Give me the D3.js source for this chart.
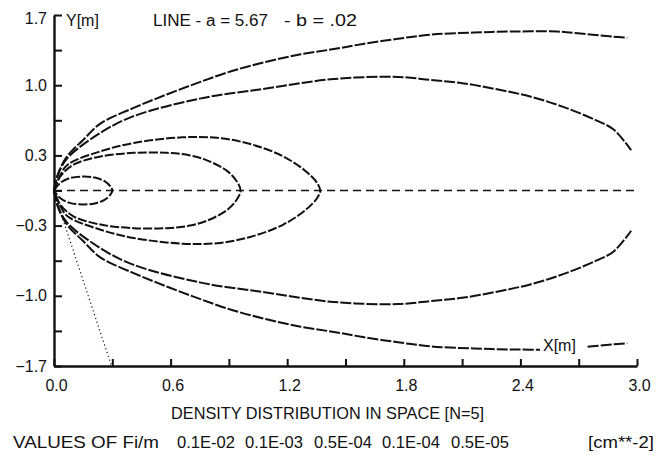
<!DOCTYPE html>
<html><head><meta charset="utf-8">
<script src="https://cdn.jsdelivr.net/npm/d3@7"></script>
<style>
body{margin:0;background:#fff}
text{font-family:"Liberation Sans",Arial,Helvetica,sans-serif;fill:#111}
</style>
</head><body>
<svg id="chart" width="668" height="455"></svg>
<script>
// ---- data ----
const xTicks = [0,0.3,0.6,0.9,1.2,1.5,1.8,2.1,2.4,2.7,3.0];
const xTickLabels = ["0.0","","0.6","","1.2","","1.8","","2.4","","3.0"];
const yTicks = [1.7,1.36,1.02,0.68,0.34,0,-0.34,-0.68,-1.02,-1.36,-1.7];
const yTickLabels = ["1.7","","1.0","","0.3","","\u22120.3","","\u22121.0","","\u22121.7"];

const contourLevels = ["0.1E-02","0.1E-03","0.5E-04","0.1E-04","0.5E-05"];

// upper halves of the iso-density curves (x[m], y[m]); lower halves are mirror images
const level1Upper = [[0,0],[0.03,0.07],[0.08,0.12],[0.15,0.135],[0.21,0.125],[0.26,0.09],[0.29,0.04],[0.30,0]];
const level2Upper = [[0,0],[0.03,0.13],[0.10,0.25],[0.24,0.33],[0.41,0.365],[0.58,0.365],[0.70,0.34],[0.79,0.29],[0.89,0.19],[0.94,0.09],[0.96,0]];
const level3Upper = [[0,0],[0.03,0.14],[0.07,0.25],[0.24,0.38],[0.41,0.46],[0.66,0.515],[0.84,0.51],[1.01,0.45],[1.18,0.33],[1.30,0.18],[1.355,0.07],[1.37,0]];
const level4Upper = [[0,0],[0.02,0.15],[0.067,0.31],[0.24,0.56],[0.41,0.72],[0.75,0.89],[1.10,0.99],[1.44,1.08],[1.77,1.10],[1.94,1.07],[2.10,1.04],[2.28,0.98],[2.45,0.91],[2.62,0.81],[2.79,0.68],[2.88,0.59],[2.97,0.39]];
const level5Upper = [[0,0],[0.02,0.16],[0.067,0.33],[0.15,0.49],[0.24,0.65],[0.41,0.80],[0.58,0.93],[0.75,1.05],[0.92,1.16],[1.10,1.25],[1.27,1.32],[1.44,1.37],[1.59,1.42],[1.77,1.47],[1.94,1.51],[2.16,1.53],[2.36,1.54],[2.59,1.54],[2.71,1.52],[2.88,1.49],[2.95,1.48]];

const centreLine = [[0,0],[3.0,0]];
const straightLine = [[0,-0.02],[0.296,-1.7]];   // LINE: a = 5.67, b = .02

// ---- drawing ----
const svg = d3.select("#chart");
const x = d3.scaleLinear().domain([0,3]).range([54,637]);
const y = d3.scaleLinear().domain([-1.7,1.7]).range([366,15]);

const smooth = d3.line().x(d=>x(d[0])).y(d=>y(d[1])).curve(d3.curveCatmullRom.alpha(0.5));
const straight = d3.line().x(d=>x(d[0])).y(d=>y(d[1]));
const mirror = pts => pts.map(([a,b])=>[a,-b]);

const g = svg.append("g");

// closed contours
[level1Upper, level2Upper, level3Upper].forEach(up=>{
  const pts = up.concat(mirror(up.slice(0,-1)).reverse());
  g.append("path").attr("d", smooth(pts))
    .attr("fill","none").attr("stroke","#111").attr("stroke-width",2)
    .attr("stroke-dasharray","9,2");
});
// open contours (leave the frame at x = 3)
[level4Upper, level5Upper].forEach(up=>{
  [up, mirror(up)].forEach(pts=>{
    g.append("path").attr("d", smooth(pts))
      .attr("fill","none").attr("stroke","#111").attr("stroke-width",2)
      .attr("stroke-dasharray","11,2");
  });
});

// centre dashed line
g.append("path").attr("d", straight(centreLine))
  .attr("fill","none").attr("stroke","#111").attr("stroke-width",1.4)
  .attr("stroke-dasharray","8,5");
// dotted straight line
g.append("path").attr("d", straight(straightLine))
  .attr("fill","none").attr("stroke","#111").attr("stroke-width",1.2)
  .attr("stroke-dasharray","1.2,2.8");

// axes
const yAxis = svg.append("g").attr("transform",`translate(${x(0)},0)`)
  .call(d3.axisLeft(y).tickValues(yTicks).tickSize(-8).tickSizeOuter(0).tickPadding(7)
    .tickFormat((d,i)=>yTickLabels[i]));
const xAxis = svg.append("g").attr("transform",`translate(0,${y(-1.7)})`)
  .call(d3.axisBottom(x).tickValues(xTicks).tickSize(-7).tickSizeOuter(0).tickPadding(14)
    .tickFormat((d,i)=>xTickLabels[i]));
[yAxis,xAxis].forEach(a=>{
  a.select(".domain").attr("stroke","#111").attr("stroke-width",2.4);
  a.selectAll(".tick line").attr("stroke","#111").attr("stroke-width",2);
  a.selectAll(".tick text").attr("font-size",16).attr("fill","#111")
    .style("font-family","'Liberation Sans',Arial,sans-serif");
});
xAxis.selectAll(".tick text").attr("dx",2);
yAxis.selectAll(".tick text").filter((d,i)=>i===0).attr("dy","0.55em");

// axis names / title
svg.append("text").attr("x",66).attr("y",26).attr("font-size",16).text("Y[m]");
svg.append("text").attr("x",153).attr("y",26).attr("font-size",16)
  .attr("textLength",115).attr("lengthAdjust","spacingAndGlyphs").text("LINE - a = 5.67");
svg.append("text").attr("x",284).attr("y",26).attr("font-size",16)
  .attr("textLength",73).attr("lengthAdjust","spacingAndGlyphs").text("- b = .02");

svg.append("rect").attr("x",540).attr("y",335).attr("width",47).attr("height",20).attr("fill","#fff");
svg.append("text").attr("x",543).attr("y",351).attr("font-size",16).text("X[m]");

svg.append("text").attr("x",171).attr("y",419).attr("font-size",17)
  .attr("textLength",313).attr("lengthAdjust","spacingAndGlyphs")
  .text("DENSITY DISTRIBUTION IN SPACE [N=5]");

svg.append("text").attr("x",13).attr("y",448).attr("font-size",17)
  .attr("textLength",146).attr("lengthAdjust","spacingAndGlyphs").text("VALUES OF Fi/m");
const levelX = [177,245,314,382,451];
contourLevels.forEach((v,i)=>{
  svg.append("text").attr("x",levelX[i]).attr("y",448).attr("font-size",17)
    .attr("textLength",58).attr("lengthAdjust","spacingAndGlyphs").text(v);
});
svg.append("text").attr("x",588).attr("y",448).attr("font-size",17)
  .attr("textLength",66).attr("lengthAdjust","spacingAndGlyphs").text("[cm**-2]");
</script>
</body></html>
